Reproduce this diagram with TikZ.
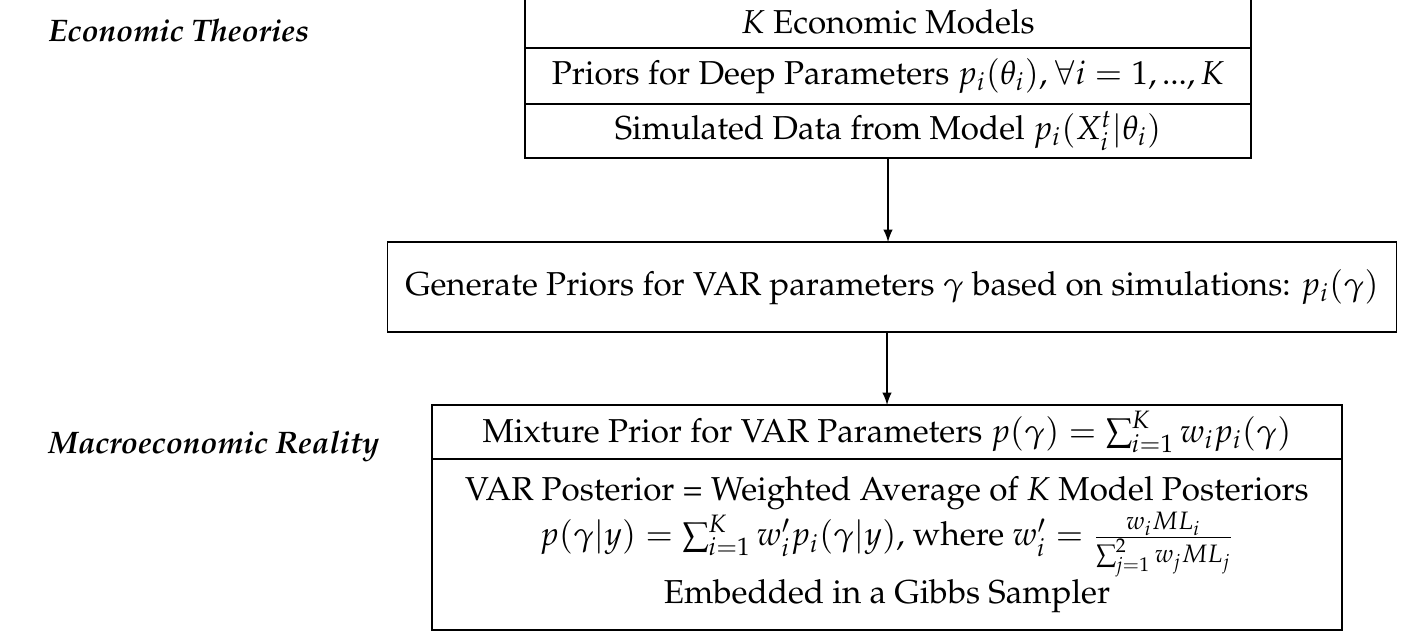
\documentclass[tikz,border=0pt]{standalone}
\usepackage[T1]{fontenc}
\usepackage{mathpazo}
\usetikzlibrary{positioning,arrows}

\begin{document}
\begin{tikzpicture}[x=0.35pt,y=0.35pt,>=latex,line width=0.5pt,
  box/.style={draw,outer sep=0pt,inner sep=2pt,align=center},
  layer/.style={font=\fontsize{10.9}{13}\selectfont\bfseries\itshape,anchor=base west,inner sep=0pt}]
\fontsize{11.6}{14}\selectfont
\useasboundingbox (0,0) rectangle (1410,633);

% the theory side
\node[box,minimum width=254.1pt,minimum height=18.2pt] (models) at (888,611) {$K$ Economic Models};
\node[box,minimum width=254.1pt,minimum height=19.6pt,below=0pt of models] (deep)
  {Priors for Deep Parameters $p_i(\theta_i)$, $\forall i=1,{...},K$};
\node[box,minimum width=254.1pt,minimum height=18.9pt,below=0pt of deep] (sim)
  {Simulated Data from Model $p_i(X_i^t|\theta_i)$};

\node[box,minimum width=353.2pt,minimum height=31.5pt] (prior) at (892,346)
  {Generate Priors for VAR parameters $\gamma$ based on simulations: $p_i(\gamma)$};

% the data side
\node[box,minimum width=318.5pt,minimum height=18.9pt] (mix) at (887,201)
  {Mixture Prior for VAR Parameters $p(\gamma)=\sum_{i=1}^K w_i p_i(\gamma)$};
\node[box,minimum width=318.5pt,minimum height=59.85pt,below=0pt of mix] (post)
  {VAR Posterior = Weighted Average of $K$ Model Posteriors\\
   $p(\gamma|y)=\sum_{i=1}^K w_i' p_i(\gamma|y)$, where $w_i'=\frac{w_i ML_i}{\sum_{j=1}^2 w_j ML_j}$\\
   Embedded in a Gibbs Sampler};

\node[layer] (econ) at (48,592) {Economic Theories};
\node[layer] (macro) at (48,180) {Macroeconomic Reality};

\draw[->] (sim.south) -- (sim.south |- prior.north);
\draw[->] (mix.north |- prior.south) -- (mix.north);
\end{tikzpicture}
\end{document}
